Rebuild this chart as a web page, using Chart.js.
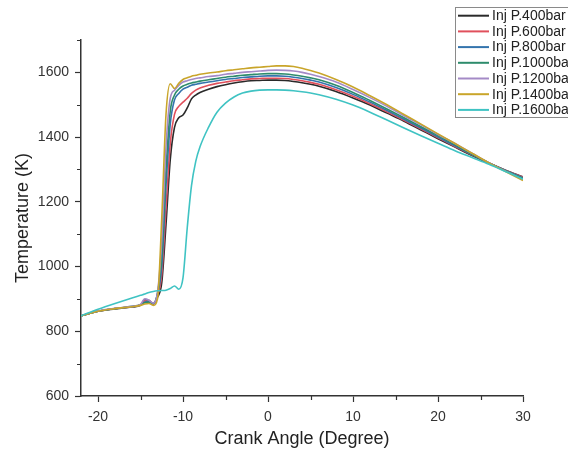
<!DOCTYPE html>
<html><head><meta charset="utf-8">
<script src="https://cdn.jsdelivr.net/npm/chart.js@4.4.1/dist/chart.umd.min.js"></script>
<style>html,body{margin:0;padding:0;background:#fff;} #wrap{width:568px;height:450px;}</style>
</head><body><div id="wrap"><canvas id="c" width="568" height="450"></canvas></div>
<script>
const crankAngle = [-22,-20,-18,-16,-15,-14.5,-14,-13.5,-13,-12.5,-12,-11.5,-11,-10.5,-10,-9.5,-9,-8.5,-8,-7,-6,-5,-4,-3,-2,-1,0,1,2,3,4,5,6,8,10,12,14,16,18,20,22,24,26,28,30];
const seriesLabels = ["Inj P.400bar","Inj P.600bar","Inj P.800bar","Inj P.1000bar","Inj P.1200bar","Inj P.1400bar","Inj P.1600bar"];
const t400 = [848,862,869,875,880,898,892,886,905, 950,1130,1330,1430,1460,1468, 1490,1518,1530,1538, 1548,1556,1562,1567,1571,1574,1575, 1576,1576,1575,1572,1568,1563,1557, 1541,1521,1499,1474,1449,1422,1395,1369,1343,1319,1297,1277];
const t600 = [848,862,870,876,881,893,896,884,910, 975,1180,1380,1470,1495,1508, 1520,1535,1545,1552, 1560,1566,1570,1574,1577,1580,1581, 1582,1582,1581,1578,1574,1569,1563, 1546,1526,1503,1478,1452,1425,1398,1371,1345,1320,1297,1276];
const t800 = [848,862,870,876,881,890,893,885,915, 1000,1250,1440,1515,1535,1548, 1554,1560,1563,1566, 1570,1574,1578,1581,1584,1586,1588, 1589,1589,1588,1585,1581,1576,1570, 1553,1532,1508,1482,1455,1428,1400,1373,1346,1320,1296,1274];
const t1000 = [848,862,870,877,882,888,890,886,918, 1030,1300,1480,1530,1548,1558, 1563,1567,1570,1573, 1577,1581,1585,1588,1591,1593,1595, 1596,1596,1595,1592,1588,1583,1577, 1560,1538,1513,1487,1460,1432,1404,1376,1347,1320,1295,1272];
const t1200 = [848,863,871,877,883,900,896,887,920, 1080,1370,1520,1545,1560,1570, 1574,1578,1581,1583, 1587,1590,1594,1597,1600,1602,1604, 1606,1607,1606,1604,1600,1594,1587, 1570,1547,1522,1495,1466,1438,1408,1380,1350,1320,1294,1268];
const t1400 = [848,862,870,876,880,884,886,880,900, 1150,1470,1565,1550,1566,1578, 1583,1588,1591,1594, 1598,1601,1605,1608,1611,1614,1616, 1618,1620,1620,1618,1613,1606,1598, 1578,1555,1528,1500,1470,1440,1410,1380,1350,1320,1293,1266];
const t1600 = [848,868,886,903,911,915,920,923,925, 926,927,932,940,930,965, 1120,1250,1325,1370, 1430,1477,1505,1524,1536,1542,1545, 1546,1546,1545,1543,1540,1536,1531, 1517,1499,1477,1453,1428,1404,1381,1358,1337,1316,1293,1270];
const seriesColors = ["#2a2a2a","#e0505c","#3474ad","#2e8c6c","#a48ac6","#c9a52a","#3fc3c3"];
const xMajorTicks = [-20,-10,0,10,20,30];
const xMinorTicks = [-15,-5,5,15,25];
const yMajorTicks = [600,800,1000,1200,1400,1600];
const yMinorTicks = [700,900,1100,1300,1500,1700];

const allSeries = [t400,t600,t800,t1000,t1200,t1400,t1600];
const datasets = allSeries.map((arr,i)=>({
  label: seriesLabels[i],
  data: arr.map((v,j)=>({x:crankAngle[j], y:v})),
  borderColor: seriesColors[i],
  backgroundColor: seriesColors[i],
  borderWidth: 1.6,
  pointRadius: 0,
  fill: false,
  cubicInterpolationMode: 'monotone',
  order: allSeries.length - i
}));

const FONT = "'Liberation Sans', Arial, sans-serif";

const extras = {
  id: 'extras',
  afterDraw(chart) {
    const ctx = chart.ctx;
    const xs = chart.scales.x, ys = chart.scales.y;
    const ca = chart.chartArea;
    ctx.save();
    ctx.strokeStyle = '#333';
    ctx.lineWidth = 1.2;
    ctx.beginPath();
    xMinorTicks.forEach(v=>{ const p = Math.round(xs.getPixelForValue(v))+0.5; ctx.moveTo(p, ca.bottom); ctx.lineTo(p, ca.bottom+4); });
    yMinorTicks.forEach(v=>{ const p = Math.round(ys.getPixelForValue(v))+0.5; ctx.moveTo(ca.left-4, p); ctx.lineTo(ca.left, p); });
    ctx.stroke();
    // legend
    const lx = 455, ly = 7, lw = 140, lh = 110, step = 15.7;
    ctx.fillStyle = '#fff';
    ctx.fillRect(lx, ly, lw, lh);
    ctx.strokeStyle = '#8a8a8a';
    ctx.lineWidth = 1;
    ctx.strokeRect(lx+0.5, ly+0.5, lw, lh);
    ctx.font = "14px " + FONT;
    ctx.textBaseline = 'middle';
    ctx.textAlign = 'left';
    chart.data.datasets.forEach((ds,i)=>{
      const y = 15.7 + i*step;
      ctx.strokeStyle = ds.borderColor;
      ctx.lineWidth = 2;
      ctx.beginPath(); ctx.moveTo(458, y); ctx.lineTo(489, y); ctx.stroke();
      ctx.fillStyle = '#222';
      ctx.fillText(ds.label, 492, y+0.5);
    });
    ctx.restore();
  }
};

new Chart(document.getElementById('c'), {
  type: 'line',
  data: { datasets },
  options: {
    responsive: false,
    devicePixelRatio: 1,
    animation: false,
    layout: { padding: { left: 0, right: 45, top: 40, bottom: 0 } },
    plugins: { legend: { display: false }, tooltip: { enabled: false } },
    scales: {
      x: {
        type: 'linear', min: -22, max: 30,
        afterBuildTicks: s => { s.ticks = xMajorTicks.map(v=>({value:v})); },
        afterFit: s => { s.height = 54; },
        grid: { display: true, drawOnChartArea: false, drawTicks: true, tickLength: 6, tickColor: '#333', tickWidth: 1.2 },
        border: { display: true, color: '#333', width: 1.5 },
        ticks: { color: '#333', font: { family: FONT, size: 14 }, padding: 7, maxRotation: 0, callback: v => String(v) },
        title: { display: true, text: 'Crank Angle (Degree)', color: '#222', font: { family: FONT, size: 18 }, padding: { top: 0, bottom: 0 } }
      },
      y: {
        type: 'linear', min: 600, max: 1700,
        afterBuildTicks: s => { s.ticks = yMajorTicks.map(v=>({value:v})); },
        afterFit: s => { s.width = 81; },
        grid: { display: true, drawOnChartArea: false, drawTicks: true, tickLength: 6, tickColor: '#333', tickWidth: 1.2 },
        border: { display: true, color: '#333', width: 1.5 },
        ticks: { color: '#333', font: { family: FONT, size: 14 }, padding: 6, callback: v => String(v) },
        title: { display: true, text: 'Temperature (K)', color: '#222', font: { family: FONT, size: 18 }, padding: { top: 12, bottom: 0 } }
      }
    }
  },
  plugins: [extras]
});
</script>
</body></html>
